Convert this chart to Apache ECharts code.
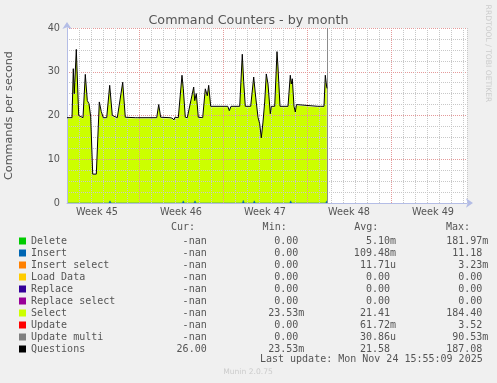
<!DOCTYPE html>
<html><head><meta charset="utf-8">
<script src="https://cdn.jsdelivr.net/npm/echarts@6/dist/echarts.min.js"></script>
<style>html,body{margin:0;padding:0;background:#f0f0f0}#c{width:497px;height:383px}</style>
</head><body><div id="c"></div>
<script>
// x values are days; day 7 = start of Week 46
const days = [1.0,1.417,1.525,1.608,1.775,1.975,2.333,2.525,2.692,2.833,2.975,3.142,3.442,3.692,3.858,4.025,4.308,4.558,4.775,5.192,5.642,5.858,6.7,6.808,6.9,7.917,8.475,8.642,8.808,9.583,9.75,9.917,10.0,10.275,10.583,10.692,10.858,11.025,11.558,11.642,11.775,11.942,12.308,12.525,12.692,12.808,12.975,14.4,14.525,14.667,15.392,15.608,15.725,15.858,16.308,16.558,16.725,16.917,17.058,17.192,17.333,17.475,17.608,17.75,17.942,18.025,18.308,18.5,18.583,18.75,19.417,19.608,19.692,19.775,19.917,20.025,20.125,20.2,21.9,22.0,22.1,22.417,22.525,22.642,22.667];
const selectVals = [19.3,19.3,30.5,24.8,34.9,19.8,19.3,29.2,23.2,22.5,19.5,6.5,6.5,22.9,20.7,19.3,19.3,26.7,19.8,19.3,27.4,19.4,19.3,19.7,19.3,19.3,19.3,22.3,19.4,19.3,19.2,18.8,19.4,19.3,29.0,25.9,19.4,19.3,26.3,23.2,24.8,19.4,19.3,25.9,24.3,26.7,21.9,21.9,20.9,21.9,21.9,33.8,27.5,21.9,21.9,28.6,24.0,19.4,17.9,14.7,18.3,22.9,29.3,27.0,20.2,21.9,21.9,34.4,30.9,21.9,21.9,29.0,27.0,28.2,21.9,20.6,22.3,21.9,21.9,22.2,21.9,21.9,29.0,26.3,26.0];
const questionVals = [19.5,19.5,30.7,25.0,35.1,20.0,19.5,29.4,23.4,22.7,19.7,6.6,6.6,23.1,20.9,19.5,19.5,26.9,20.0,19.5,27.6,19.6,19.5,19.9,19.5,19.5,19.5,22.5,19.6,19.5,19.4,19.0,19.6,19.5,29.2,26.1,19.6,19.5,26.5,23.4,25.0,19.6,19.5,26.1,24.5,26.9,22.1,22.1,21.1,22.1,22.1,34.0,27.7,22.1,22.1,28.8,24.2,19.6,18.1,14.9,18.5,23.1,29.5,27.2,20.4,22.1,22.1,34.6,31.1,22.1,22.1,29.2,27.2,28.4,22.1,20.8,22.5,22.1,22.1,22.4,22.1,22.1,29.2,26.5,26.2];
const insertDays = [1.0,1.5,1.583,1.667,2.5,2.583,2.667,3.608,3.692,3.775,4.5,4.583,4.667,5.608,5.692,5.775,8.525,8.608,8.692,10.608,10.692,10.775,11.583,11.667,11.75,12.5,12.583,12.667,15.608,15.692,15.775,16.525,16.608,16.692,17.558,17.642,17.725,18.525,18.608,18.692,19.558,19.642,19.725,22.558,22.642,22.667];
const insertVals = [0,0,0.4,0,0,0.3,0,0,0.3,0,0,0.5,0,0,0.4,0,0,0.3,0,0,0.5,0,0,0.5,0,0,0.4,0,0,0.6,0,0,0.5,0,0,0.4,0,0,0.4,0,0,0.5,0,0,0.5,0.3];
const weekCenters = [3.5,10.5,17.5,24.5,31.5];
const weekLabels = ['Week 45','Week 46','Week 47','Week 48','Week 49'];
const weekStarts = [7,14,21,28];
const nowDay = 22.69;
const xMin = 1, xMax = 34.3333;
const yMin = 0, yMax = 40, yStep = 10;

const names = ['Delete','Insert','Insert select','Load Data','Replace','Replace select','Select','Update','Update multi','Questions'];
const curVals = ['-nan','-nan','-nan','-nan','-nan','-nan','-nan','-nan','-nan','26.00'];
const minVals = ['0.00','0.00','0.00','0.00','0.00','0.00','23.53m','0.00','0.00','23.53m'];
const avgVals = ['5.10m','109.48m','11.71u','0.00','0.00','0.00','21.41','61.72m','30.86u','21.58'];
const maxVals = ['181.97m','11.18','3.23m','0.00','0.00','0.00','184.40','3.52','90.53m','187.08'];
const colHeaders = ['Cur:','Min:','Avg:','Max:'];
const lastUpdate = 'Last update: Mon Nov 24 15:55:09 2025';

const palette = ['#00cc00','#0066b3','#ff8000','#ffcc00','#330099','#990099','#ccff00','#ff0000','#808080','#000000'];

const pad = v => /[a-zA-Z]$/.test(v) && v !== '-nan' ? v : v + '\u00a0';
const mono = {fontFamily:'DejaVu Sans Mono', fontSize:10, color:'#555', lineHeight:12};
const minorGrid = {color: '#c8c8c8', type: [1, 1], width: 1};
const majorGrid = {color: '#e49a9a', type: [1, 1], width: 1};

const series = names.map((n, i) => ({
  name: n, type: 'line', symbol: 'none', silent: true, animation: false,
  itemStyle: {color: palette[i]}, lineStyle: {width: 0, color: palette[i]}, data: []
}));
// Select area
series[6].data = days.map((d, i) => [d, selectVals[i]]);
series[6].areaStyle = {color: '#ccff00', opacity: 1};
series[6].z = 1;
// Insert blips
series[1].data = insertDays.map((d, i) => [d, insertVals[i]]);
series[1].areaStyle = {color: '#0066b3', opacity: 1};
series[1].lineStyle = {width: 0.5, color: '#0066b3'};
series[1].z = 1.5;
// Questions line
series[9].data = days.map((d, i) => [d, questionVals[i]]);
series[9].lineStyle = {width: 1, color: '#000'};
series[9].z = 5;
// week grid lines + now line
series[0].z = 4;
series[0].markLine = {
  silent: true, symbol: 'none', animation: false, label: {show: false},
  data: weekStarts.map(w => ({xAxis: w, lineStyle: majorGrid}))
    .concat([{xAxis: nowDay, lineStyle: {color: '#8c8c8c', type: 'solid', width: 1}}])
};

const axisColor = '#b4bde6';
const chart = echarts.init(document.getElementById('c'), null, {renderer: 'canvas'});
chart.setOption({
  backgroundColor: '#f0f0f0',
  animation: false,
  title: {text: 'Command Counters - by month', left: 'center', top: 9,
    textStyle: {fontFamily: 'DejaVu Sans', fontSize: 12.7, fontWeight: 'normal', color: '#555'}},
  grid: {left: 67, right: 30, top: 28, bottom: 180, show: true, backgroundColor: '#fff', borderWidth: 0,
    containLabel: false, outerBoundsMode: 'none'},
  xAxis: [{
    type: 'value', min: xMin, max: xMax, interval: 1, position: 'bottom', z: 3,
    axisLine: {show: true, lineStyle: {color: axisColor}, symbol: ['none', 'arrow'], symbolSize: [7, 7], symbolOffset: [0, 6]},
    axisTick: {show: false}, axisLabel: {show: false},
    splitLine: {show: true, lineStyle: minorGrid}
  }, {
    type: 'value', min: xMin, max: xMax, interval: 0.5, position: 'bottom', offset: 0,
    axisLine: {show: false}, axisTick: {show: false}, splitLine: {show: false},
    axisLabel: {show: true, margin: 4, color: '#555', fontFamily: 'DejaVu Sans', fontSize: 9.7,
      showMinLabel: true, showMaxLabel: true,
      formatter: v => { const k = weekCenters.findIndex(c => Math.abs(c - v) < 0.01); return k >= 0 ? weekLabels[k] : ''; }}
  }],
  yAxis: {
    type: 'value', min: yMin, max: yMax, interval: yStep, z: 3,
    axisLine: {show: true, lineStyle: {color: axisColor}, symbol: ['none', 'arrow'], symbolSize: [7, 7], symbolOffset: [0, 6]},
    axisTick: {show: false},
    axisLabel: {color: '#555', fontFamily: 'DejaVu Sans', fontSize: 9.7, margin: 7},
    splitLine: {show: true, lineStyle: majorGrid},
    minorTick: {show: false, splitNumber: 4},
    minorSplitLine: {show: true, lineStyle: minorGrid},
    name: 'Commands per second', nameLocation: 'middle', nameGap: 52,
    nameTextStyle: {fontFamily: 'DejaVu Sans', fontSize: 11.2, color: '#555'}
  },
  legend: {
    orient: 'vertical', left: 14, top: 230, itemWidth: 7, itemHeight: 7, itemGap: 0,
    icon: 'rect', selectedMode: false, data: names,
    formatter: name => {
      const i = names.indexOf(name);
      return `{n|${name}}{c|${curVals[i]}}{m|${pad(minVals[i])}}{a|${pad(avgVals[i])}}{x|${pad(maxVals[i])}}`;
    },
    textStyle: Object.assign({}, mono, {rich: {
      n: Object.assign({}, mono, {width: 140, align: 'left'}),
      c: Object.assign({}, mono, {width: 35.7, align: 'right'}),
      m: Object.assign({}, mono, {width: 97.6, align: 'right'}),
      a: Object.assign({}, mono, {width: 91.7, align: 'right'}),
      x: Object.assign({}, mono, {width: 92.3, align: 'right'})
    }})
  },
  graphic: [
    ...colHeaders.map((h, i) => ({type: 'text', x: [195, 286.7, 378.3, 470][i], y: 227.5,
      style: {text: h, align: 'right', textAlign: 'right', verticalAlign: 'middle', textVerticalAlign: 'middle',
        font: '10px "DejaVu Sans Mono"', fill: '#555'}})),
    {type: 'text', x: 482.7, y: 359.5, style: {text: lastUpdate, align: 'right', textAlign: 'right',
      verticalAlign: 'middle', textVerticalAlign: 'middle', font: '10px "DejaVu Sans Mono"', fill: '#555'}},
    {type: 'text', x: 248, y: 372.5, style: {text: 'Munin 2.0.75', align: 'center', textAlign: 'center',
      verticalAlign: 'middle', textVerticalAlign: 'middle', font: '7.6px "DejaVu Sans"', fill: '#cccccc'}},
    {type: 'text', x: 487.7, y: 53.5, rotation: -Math.PI / 2, style: {text: 'RRDTOOL / TOBI OETIKER', align: 'center', textAlign: 'center',
      verticalAlign: 'middle', textVerticalAlign: 'middle', font: '7.6px "DejaVu Sans"', fill: '#cccccc'}}
  ],
  series: series
});
</script></body></html>
